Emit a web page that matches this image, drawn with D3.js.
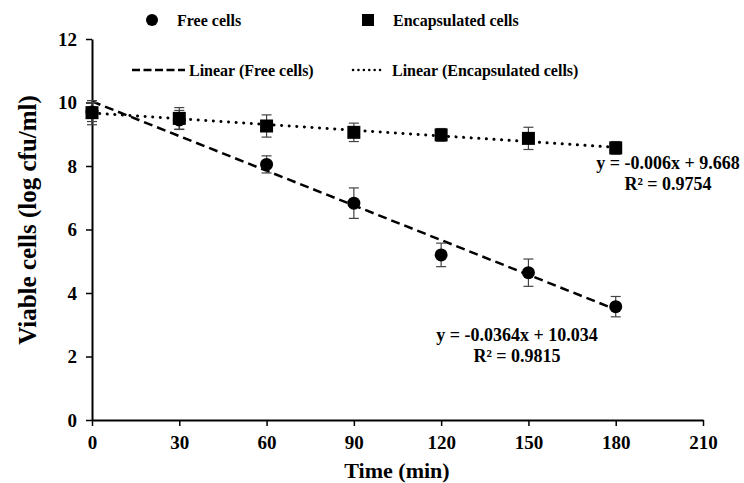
<!DOCTYPE html>
<html><head><meta charset="utf-8">
<script src="https://cdn.jsdelivr.net/npm/d3@7/dist/d3.min.js"></script>
<style>
body{margin:0;background:#fff;}
text{font-family:"Liberation Serif","Times New Roman",serif;font-weight:bold;fill:#000;}
</style></head>
<body><svg id="chart" width="744" height="483"></svg>
<script>
const times = [0, 30, 60, 90, 120, 150, 180];
const freeCells = [9.7, 9.45, 8.05, 6.83, 5.2, 4.64, 3.57];
const freeErr = [0.3, 0.3, 0.27, 0.48, 0.37, 0.43, 0.32];
const encCells = [9.68, 9.5, 9.26, 9.06, 8.98, 8.87, 8.57];
const encErr = [0.38, 0.34, 0.35, 0.29, 0.2, 0.35, 0.2];
const freeFit = {slope: -0.0364, intercept: 10.034, r2: "0.9815"};
const encFit = {slope: -0.006, intercept: 9.668, r2: "0.9754"};
const xTicks = [0, 30, 60, 90, 120, 150, 180, 210];
const yTicks = [0, 2, 4, 6, 8, 10, 12];

const svg = d3.select("#chart");
const x = d3.scaleLinear().domain([0, 210]).range([92, 703]);
const y = d3.scaleLinear().domain([0, 12]).range([420, 39]);

// axes
const xa = svg.append("g").attr("transform", `translate(0,${y(0)})`)
  .call(d3.axisBottom(x).tickValues(xTicks).tickSize(6).tickPadding(9).tickSizeOuter(0));
const ya = svg.append("g").attr("transform", `translate(${x(0)},0)`)
  .call(d3.axisLeft(y).tickValues(yTicks).tickSize(6).tickPadding(9).tickSizeOuter(0));
[xa, ya].forEach(a => {
  a.select(".domain").attr("stroke", "#000").attr("stroke-width", 2);
  a.selectAll(".tick line").attr("stroke", "#000").attr("stroke-width", 1.5);
  a.selectAll(".tick text").style("font-size", "19px").style("font-family", "Liberation Serif").style("font-weight", "bold");
});
xa.selectAll(".tick text").attr("dy", "0.75em");

// trendlines
function fitLine(f, x0, x1) { return [[x0, f.intercept + f.slope * x0], [x1, f.intercept + f.slope * x1]]; }
const line = d3.line().x(d => x(d[0])).y(d => y(d[1]));
svg.append("path").datum(fitLine(freeFit, 0, 180)).attr("d", line)
  .attr("fill", "none").attr("stroke", "#000").attr("stroke-width", 2.5).attr("stroke-dasharray", "9,5");
svg.append("path").datum(fitLine(encFit, 0, 180)).attr("d", line)
  .attr("fill", "none").attr("stroke", "#000").attr("stroke-width", 3).attr("stroke-dasharray", "0.1,7.5").attr("stroke-linecap", "round");

// error bars
function errBars(vals, errs) {
  const g = svg.append("g").attr("stroke", "#444").attr("stroke-width", 1.2);
  times.forEach((t, i) => {
    const cx = x(t), y0 = y(vals[i] - errs[i]), y1 = y(vals[i] + errs[i]);
    g.append("line").attr("x1", cx).attr("x2", cx).attr("y1", y0).attr("y2", y1);
    g.append("line").attr("x1", cx - 5).attr("x2", cx + 5).attr("y1", y0).attr("y2", y0);
    g.append("line").attr("x1", cx - 5).attr("x2", cx + 5).attr("y1", y1).attr("y2", y1);
  });
}
errBars(freeCells, freeErr);
errBars(encCells, encErr);

// markers
svg.append("g").selectAll("circle").data(times).join("circle")
  .attr("cx", d => x(d)).attr("cy", (d, i) => y(freeCells[i])).attr("r", 6.5).attr("fill", "#000");
svg.append("g").selectAll("rect").data(times).join("rect")
  .attr("x", d => x(d) - 6.5).attr("y", (d, i) => y(encCells[i]) - 6.5)
  .attr("width", 13).attr("height", 13).attr("fill", "#000");

// legend
const lg = svg.append("g");
lg.append("circle").attr("cx", 152).attr("cy", 20).attr("r", 6).attr("fill", "#000");
lg.append("text").attr("x", 177).attr("y", 26).style("font-size", "16px").text("Free cells");
lg.append("rect").attr("x", 362).attr("y", 14).attr("width", 12).attr("height", 12).attr("fill", "#000");
lg.append("text").attr("x", 393).attr("y", 26).style("font-size", "16px").text("Encapsulated cells");
lg.append("line").attr("x1", 132).attr("x2", 185).attr("y1", 70).attr("y2", 70)
  .attr("stroke", "#000").attr("stroke-width", 2.5).attr("stroke-dasharray", "8,3.5");
lg.append("text").attr("x", 189).attr("y", 76).style("font-size", "16px").text("Linear (Free cells)");
lg.append("line").attr("x1", 353).attr("x2", 385).attr("y1", 70).attr("y2", 70)
  .attr("stroke", "#000").attr("stroke-width", 2.5).attr("stroke-dasharray", "0.1,5.3").attr("stroke-linecap", "round");
lg.append("text").attr("x", 392).attr("y", 76).style("font-size", "16px").text("Linear (Encapsulated cells)");

// equations
function eq(cx, cy, f, b) {
  const s = f.slope, sign = f.intercept >= 0 ? "+" : "-";
  svg.append("text").attr("x", cx).attr("y", cy).attr("text-anchor", "middle").style("font-size", "18px")
    .text(`y = ${s}x ${sign} ${b}`);
  svg.append("text").attr("x", cx).attr("y", cy + 21).attr("text-anchor", "middle").style("font-size", "18px")
    .text(`R² = ${f.r2}`);
}
eq(668, 169, encFit, "9.668");
eq(517, 341, freeFit, "10.034");

// axis titles
svg.append("text").attr("x", 397).attr("y", 478).attr("text-anchor", "middle").style("font-size", "22px").text("Time (min)");
svg.append("text").attr("transform", "translate(36,220) rotate(-90)").attr("text-anchor", "middle")
  .style("font-size", "25px").text("Viable cells (log cfu/ml)");
</script></body></html>
